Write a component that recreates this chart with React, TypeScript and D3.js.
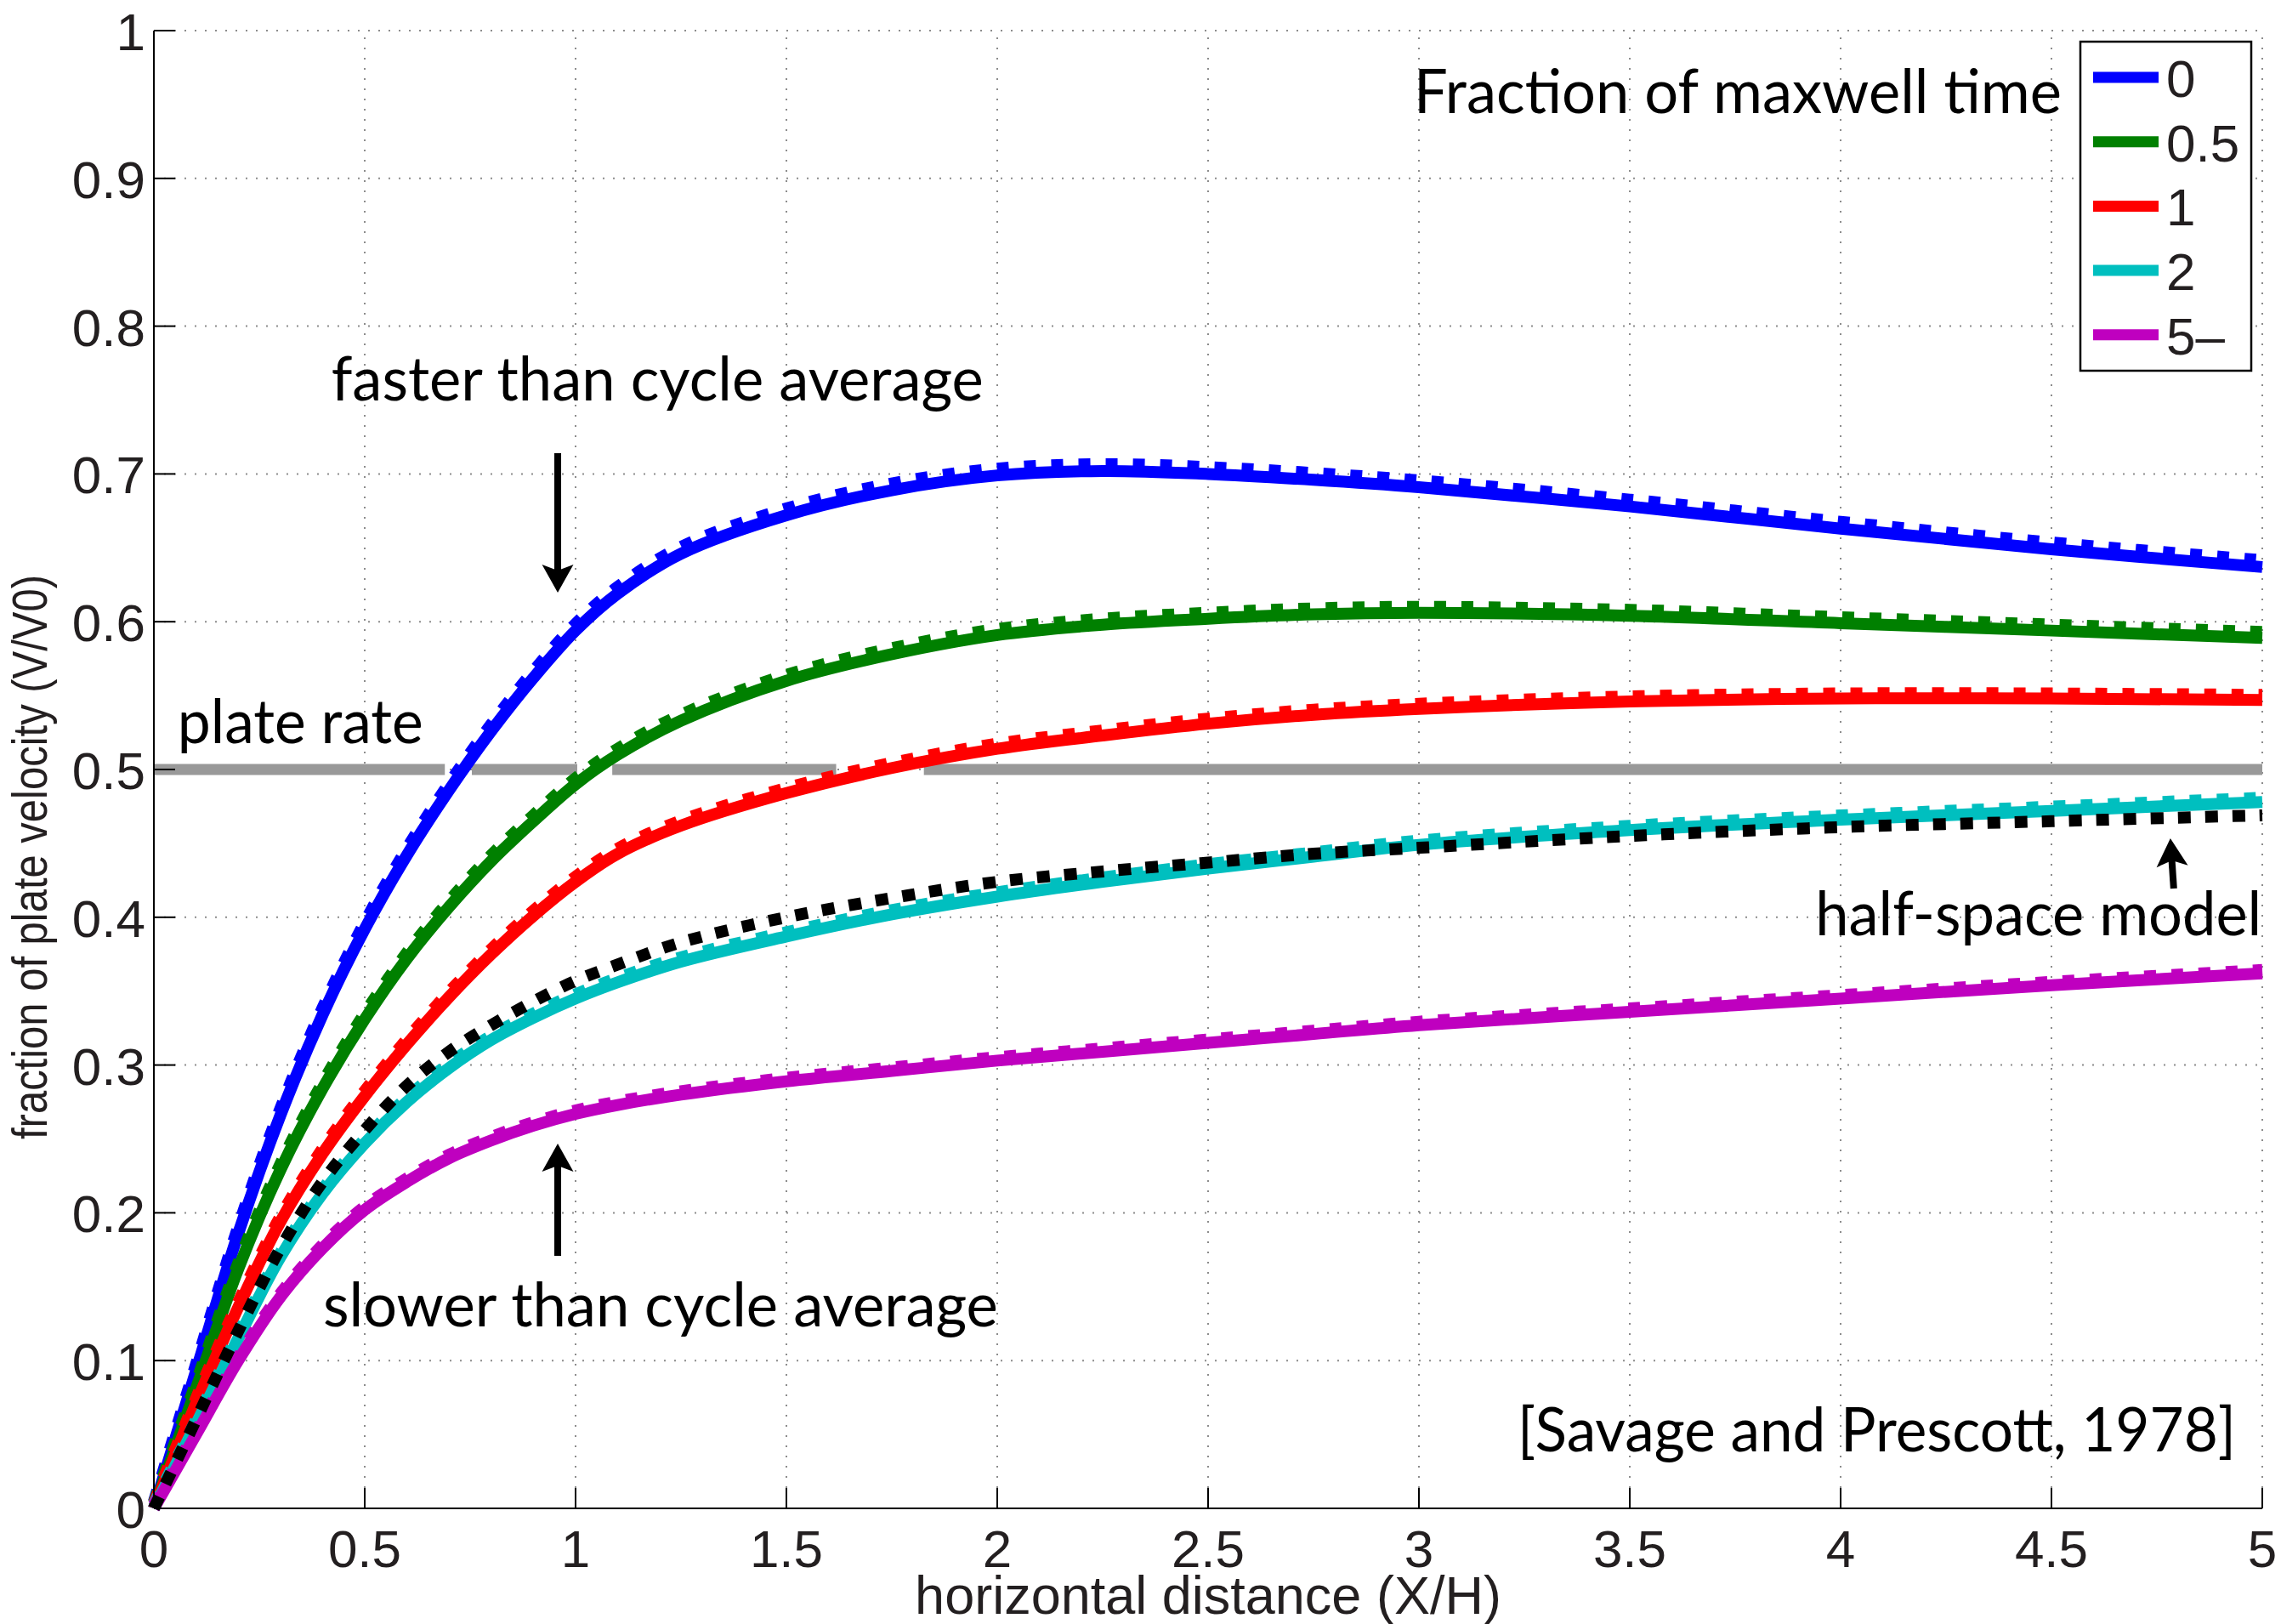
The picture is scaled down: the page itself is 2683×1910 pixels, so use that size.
import React from 'react';
import * as d3 from 'd3';

// ---------------- data ----------------
const xs = [0, 0.1, 0.2, 0.3, 0.4, 0.5, 0.6, 0.7, 0.8, 0.9, 1.0, 1.1, 1.25, 1.5, 1.75, 2.0, 2.25, 2.5, 2.75, 3.0, 3.5, 4.0, 4.5, 5.0];
const series0 = [0, 0.093, 0.186, 0.266, 0.334, 0.392, 0.442, 0.486, 0.526, 0.562, 0.594, 0.619, 0.646, 0.672, 0.689, 0.699, 0.702, 0.700, 0.696, 0.691, 0.678, 0.663, 0.649, 0.637];
const series05 = [0, 0.081, 0.162, 0.229, 0.284, 0.331, 0.372, 0.407, 0.438, 0.465, 0.490, 0.510, 0.533, 0.560, 0.578, 0.591, 0.598, 0.602, 0.605, 0.606, 0.604, 0.599, 0.594, 0.589];
const series1 = [0, 0.071, 0.136, 0.194, 0.240, 0.279, 0.314, 0.346, 0.375, 0.401, 0.424, 0.443, 0.462, 0.484, 0.501, 0.514, 0.523, 0.531, 0.537, 0.541, 0.546, 0.548, 0.548, 0.547];
const series2 = [0, 0.057, 0.115, 0.170, 0.213, 0.247, 0.275, 0.298, 0.317, 0.332, 0.345, 0.356, 0.370, 0.387, 0.402, 0.414, 0.424, 0.433, 0.441, 0.449, 0.459, 0.466, 0.472, 0.478];
const series5 = [0, 0.050, 0.100, 0.143, 0.176, 0.202, 0.221, 0.237, 0.249, 0.259, 0.267, 0.273, 0.280, 0.289, 0.296, 0.303, 0.309, 0.315, 0.321, 0.327, 0.336, 0.345, 0.354, 0.362];
const halfSpace = [0, 0.060, 0.120, 0.176, 0.221, 0.256, 0.286, 0.309, 0.327, 0.343, 0.357, 0.368, 0.383, 0.400, 0.413, 0.424, 0.431, 0.437, 0.443, 0.447, 0.455, 0.461, 0.465, 0.469];

const legendLabels = ['0', '0.5', '1', '2', '5–'];
const seriesColors = ['#0000ff', '#008000', '#ff0000', '#00bfbf', '#bf00bf'];
const dashLift = [8, 7, 6, 5, 4];

const plateRate = 0.5;
const plateSegments = [[0, 0.69], [0.754, 1.004], [1.087, 1.618], [1.826, 5.0]];

const xTicks = [0, 0.5, 1, 1.5, 2, 2.5, 3, 3.5, 4, 4.5, 5];
const xTickLabels = ['0', '0.5', '1', '1.5', '2', '2.5', '3', '3.5', '4', '4.5', '5'];
const yTicks = [0, 0.1, 0.2, 0.3, 0.4, 0.5, 0.6, 0.7, 0.8, 0.9, 1];
const yTickLabels = ['0', '0.1', '0.2', '0.3', '0.4', '0.5', '0.6', '0.7', '0.8', '0.9', '1'];

// annotations (data coordinates)
const notes = [
  { text: 'Fraction of maxwell time', x: 2.988, y: 0.944, len: 762 },
  { text: 'faster than cycle average', x: 0.421, y: 0.750, len: 767 },
  { text: 'plate rate', x: 0.056, y: 0.518, len: 289 },
  { text: 'half-space model', x: 3.940, y: 0.388, len: 525 },
  { text: 'slower than cycle average', x: 0.401, y: 0.123, len: 794 },
  { text: '[Savage and Prescott, 1978]', x: 3.234, y: 0.0386, len: 845 },
];
const arrows = [
  { tail: [0.9577, 0.714], tip: [0.9577, 0.6197] },
  { tail: [0.9577, 0.1709], tip: [0.9577, 0.2468] },
  { tail: [4.790, 0.4195], tip: [4.782, 0.4534] },
];

const W = 2683;
const H = 1910;
const axisFont = '"Liberation Sans", Arial, Helvetica, sans-serif';
const noteFont = 'Lato, "Open Sans", sans-serif';
const textColor = '#231f20';

export default function App() {
  const x = d3.scaleLinear().domain([0, 5]).range([181, 2661]);
  const y = d3.scaleLinear().domain([0, 1]).range([1774, 36]);
  const line = d3
    .line<number>()
    .x((_, i) => x(xs[i]))
    .y((d) => y(d))
    .curve(d3.curveCatmullRom.alpha(0.5));

  const allSeries = [series0, series05, series1, series2, series5];

  const arrowShapes = arrows.map((a, i) => {
    const tx = x(a.tail[0]);
    const ty = y(a.tail[1]);
    const px = x(a.tip[0]);
    const py = y(a.tip[1]);
    const dx = px - tx;
    const dy = py - ty;
    const L = Math.hypot(dx, dy);
    const ux = dx / L;
    const uy = dy / L;
    const nx = -uy;
    const ny = ux;
    const headLen = 33;
    const headW = 37;
    const notch = 7;
    const bx = px - ux * headLen;
    const by = py - uy * headLen;
    const mx = px - ux * (headLen - notch);
    const my = py - uy * (headLen - notch);
    const head = `M${px},${py}L${bx + (nx * headW) / 2},${by + (ny * headW) / 2}L${mx},${my}L${bx - (nx * headW) / 2},${by - (ny * headW) / 2}Z`;
    return (
      <g key={'arr' + i}>
        <line x1={tx} y1={ty} x2={mx} y2={my} stroke="#000" strokeWidth={8} />
        <path d={head} fill="#000" />
      </g>
    );
  });

  return (
    <svg
      width={W}
      height={H}
      viewBox={`0 0 ${W} ${H}`}
      style={{ position: 'absolute', left: 0, top: 0, background: '#fff' }}
    >
      <rect x={0} y={0} width={W} height={H} fill="#fff" />
      {/* grid */}
      <g stroke="#8c8c8c" strokeWidth={2} strokeDasharray="2 10">
        {xTicks.filter((t) => t > 0).map((t) => (
          <line key={'gx' + t} x1={x(t)} x2={x(t)} y1={y(0)} y2={y(1)} />
        ))}
        {yTicks.filter((t) => t > 0).map((t) => (
          <line key={'gy' + t} x1={x(0)} x2={x(5)} y1={y(t)} y2={y(t)} />
        ))}
      </g>

      {/* plate rate */}
      <g stroke="#999999" strokeWidth={13}>
        {plateSegments.map((s, i) => (
          <line key={'pr' + i} x1={x(s[0])} x2={x(s[1])} y1={y(plateRate)} y2={y(plateRate)} />
        ))}
      </g>

      {/* curves */}
      {allSeries.map((s, i) => (
        <g key={'s' + i} fill="none" stroke={seriesColors[i]} strokeWidth={14}>
          <path d={line(s) || ''} transform={`translate(0,${-dashLift[i]})`} strokeDasharray="14 18" />
          <path d={line(s) || ''} strokeLinejoin="round" />
        </g>
      ))}
      <path d={line(halfSpace) || ''} fill="none" stroke="#000" strokeWidth={14} strokeDasharray="15 17" />

      {/* axes */}
      <g stroke="#000" strokeWidth={2}>
        <line x1={x(0)} x2={x(0)} y1={y(0)} y2={y(1)} />
        <line x1={x(0)} x2={x(5)} y1={y(0)} y2={y(0)} />
        {xTicks.map((t) => (
          <line key={'tx' + t} x1={x(t)} x2={x(t)} y1={y(0)} y2={y(0) - 24} />
        ))}
        {yTicks.map((t) => (
          <line key={'ty' + t} x1={x(0)} x2={x(0) + 25} y1={y(t)} y2={y(t)} />
        ))}
      </g>
      <g fontFamily={axisFont} fontSize={62} fill={textColor}>
        {xTicks.map((t, i) => (
          <text key={'lx' + t} x={x(t)} y={y(0) + 69} textAnchor="middle">
            {xTickLabels[i]}
          </text>
        ))}
        {yTicks.map((t, i) => (
          <text key={'ly' + t} x={x(0) - 10} y={y(t) + 23} textAnchor="end">
            {yTickLabels[i]}
          </text>
        ))}
        <text x={x(2.5)} y={1898} textAnchor="middle" fontSize={63}>
          horizontal distance (X/H)
        </text>
        <text
          transform={`translate(55,1008) rotate(-90)`}
          textAnchor="middle"
          fontSize={57}
          textLength={664}
          lengthAdjust="spacingAndGlyphs"
        >
          fraction of plate velocity (V/V0)
        </text>
      </g>

      {/* annotations */}
      <g fontFamily={noteFont} fontSize={72} fill="#000">
        {notes.map((n, i) => (
          <text key={'n' + i} x={x(n.x)} y={y(n.y)} textLength={n.len} lengthAdjust="spacingAndGlyphs">
            {n.text}
          </text>
        ))}
      </g>
      {arrowShapes}

      {/* legend */}
      <g>
        <rect x={2447} y={49} width={201} height={387} fill="#fff" stroke="#000" strokeWidth={2.5} />
        {legendLabels.map((l, i) => (
          <g key={'lg' + i}>
            <line x1={2462} x2={2539} y1={91 + i * 75.7} y2={91 + i * 75.7} stroke={seriesColors[i]} strokeWidth={13} />
            <text x={2548} y={91 + i * 75.7 + 23} fontFamily={axisFont} fontSize={62} fill={textColor}>
              {l}
            </text>
          </g>
        ))}
      </g>
    </svg>
  );
}
